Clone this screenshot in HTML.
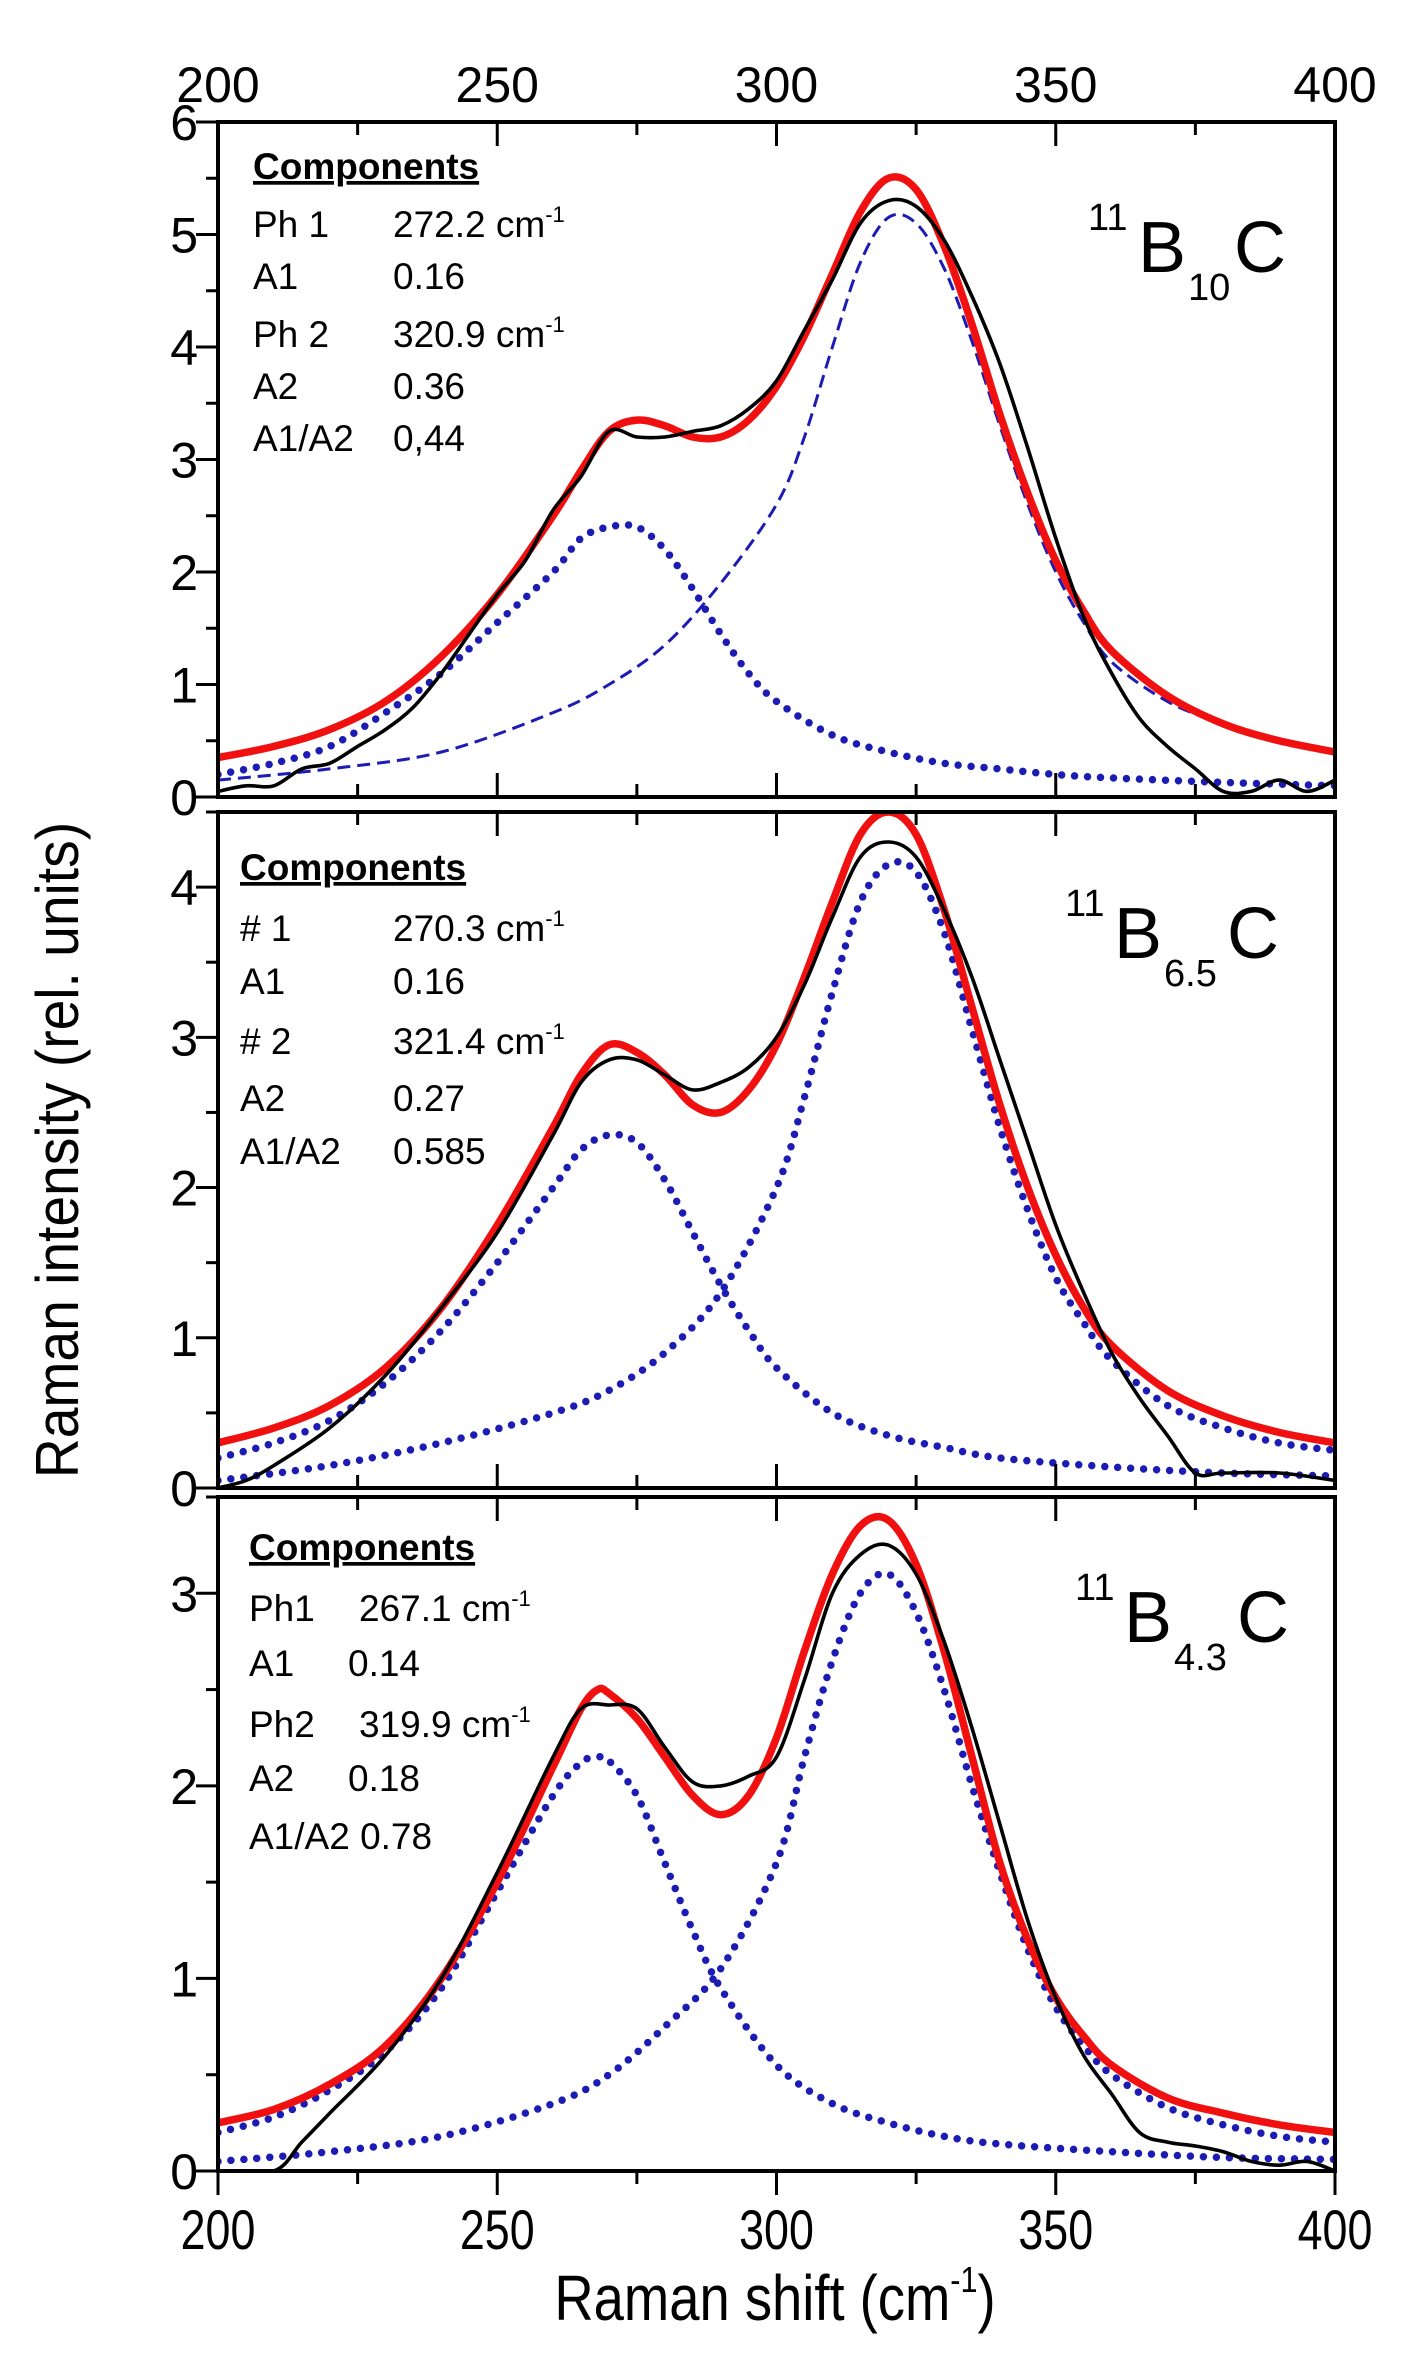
<!DOCTYPE html>
<html><head><meta charset="utf-8"><style>
html,body{margin:0;padding:0;background:#fff;width:1412px;height:2371px;overflow:hidden}
svg{display:block}
text{font-family:"Liberation Sans",Arial,sans-serif;fill:#000}
</style></head><body>
<svg id="chart" width="1412" height="2371" viewBox="0 0 1412 2371" xmlns="http://www.w3.org/2000/svg"></svg>
<script>
// ---- Data ----
const xTicks = [200, 250, 300, 350, 400];
const xTickLabels = ["200", "250", "300", "350", "400"];

// Panel 1: 11B10C
const p1MeasX = [200,205,210,215,220,225,230,235,240,245,250,255,260,265,270,275,280,285,290,295,300,305,310,315,320,325,330,335,340,345,350,355,360,365,370,375,380,385,390,395,400];
const p1MeasY = [0.05,0.1,0.1,0.25,0.3,0.45,0.6,0.8,1.1,1.45,1.8,2.1,2.55,2.85,3.25,3.2,3.2,3.25,3.3,3.45,3.7,4.15,4.6,5.1,5.3,5.25,4.95,4.45,3.85,3.1,2.3,1.6,1.1,0.7,0.45,0.25,0.05,0.05,0.15,0.05,0.15];
const p1FitX = [200,210,220,230,240,250,260,265,270,275,280,285,290,295,300,305,310,315,320,325,330,335,340,345,350,355,360,370,380,390,400];
const p1FitY = [0.35,0.45,0.6,0.85,1.25,1.8,2.5,2.9,3.25,3.35,3.3,3.2,3.2,3.35,3.65,4.1,4.65,5.2,5.5,5.4,4.9,4.2,3.4,2.7,2.1,1.65,1.3,0.9,0.65,0.5,0.4];
const p1C1X = [200,210,220,230,240,250,260,265,270,275,280,285,290,295,300,310,320,330,340,350,360,380,400];
const p1C1Y = [0.2,0.3,0.45,0.75,1.1,1.55,2.0,2.3,2.4,2.4,2.2,1.85,1.45,1.1,0.85,0.55,0.4,0.3,0.25,0.2,0.17,0.13,0.1];
const p1C2X = [200,220,240,260,270,280,290,300,305,310,315,320,325,330,335,340,345,350,355,360,370,380,390,400];
const p1C2Y = [0.15,0.25,0.4,0.75,1.0,1.35,1.9,2.6,3.2,4.0,4.75,5.15,5.1,4.7,4.05,3.3,2.6,2.0,1.55,1.2,0.85,0.65,0.5,0.38];
const p1YTicks = [0,1,2,3,4,5,6];

// Panel 2: 11B6.5C
const p2MeasX = [200,205,210,220,230,240,250,260,265,270,275,280,285,290,295,300,305,310,315,320,325,330,335,340,345,350,355,360,365,370,375,380,390,400];
const p2MeasY = [0.0,0.05,0.15,0.4,0.75,1.2,1.7,2.35,2.7,2.85,2.85,2.75,2.65,2.7,2.8,3.0,3.35,3.8,4.2,4.3,4.2,3.85,3.4,2.85,2.3,1.75,1.3,0.9,0.6,0.35,0.1,0.1,0.1,0.05];
const p2FitX = [200,210,220,230,240,250,260,265,270,275,280,285,290,295,300,305,310,315,320,325,330,335,340,345,350,355,360,370,380,390,400];
const p2FitY = [0.3,0.4,0.55,0.8,1.2,1.75,2.4,2.75,2.95,2.9,2.75,2.55,2.5,2.65,2.95,3.4,3.9,4.35,4.5,4.35,3.85,3.2,2.55,2.0,1.55,1.2,0.95,0.65,0.48,0.37,0.3];
const p2C1X = [200,210,220,230,240,250,260,265,270,275,280,285,290,295,300,310,320,330,340,360,380,400];
const p2C1Y = [0.2,0.3,0.45,0.7,1.05,1.5,2.0,2.25,2.35,2.3,2.05,1.7,1.35,1.05,0.8,0.5,0.35,0.27,0.2,0.14,0.1,0.08];
const p2C2X = [200,220,240,260,270,280,290,300,305,310,315,320,325,330,335,340,345,350,355,360,370,380,390,400];
const p2C2Y = [0.05,0.15,0.3,0.5,0.65,0.9,1.3,2.0,2.6,3.3,3.9,4.15,4.1,3.7,3.05,2.4,1.85,1.4,1.1,0.85,0.55,0.4,0.3,0.25];
const p2YTicks = [0,1,2,3,4];

// Panel 3: 11B4.3C
const p3MeasX = [200,210,215,220,230,240,250,260,265,270,275,280,285,290,295,300,305,310,315,320,325,330,335,340,345,350,355,360,365,370,375,380,385,390,395,400];
const p3MeasY = [0,0,0.15,0.3,0.6,1.0,1.55,2.15,2.4,2.42,2.4,2.2,2.02,2.0,2.05,2.15,2.55,3.0,3.2,3.25,3.1,2.75,2.3,1.8,1.3,0.9,0.6,0.4,0.2,0.15,0.13,0.1,0.05,0.03,0.05,0.0];
const p3FitX = [200,210,220,230,240,250,260,265,268,270,275,280,285,290,295,300,305,310,315,320,325,330,335,340,345,350,355,360,370,380,390,400];
const p3FitY = [0.25,0.32,0.45,0.65,1.0,1.5,2.1,2.4,2.5,2.48,2.35,2.15,1.95,1.85,1.95,2.25,2.7,3.1,3.35,3.38,3.15,2.7,2.15,1.6,1.2,0.9,0.7,0.55,0.38,0.3,0.24,0.2];
const p3C1X = [200,210,220,230,240,250,260,265,268,270,275,280,285,290,300,310,320,330,340,360,380,400];
const p3C1Y = [0.2,0.28,0.42,0.62,0.95,1.45,1.95,2.12,2.15,2.13,1.95,1.6,1.25,0.95,0.55,0.35,0.25,0.18,0.14,0.1,0.07,0.06];
const p3C2X = [200,220,240,260,270,280,290,300,305,310,315,320,325,330,335,340,345,350,355,360,370,380,390,400];
const p3C2Y = [0.05,0.1,0.18,0.35,0.5,0.75,1.05,1.6,2.15,2.65,3.0,3.1,2.9,2.5,2.0,1.55,1.15,0.85,0.65,0.5,0.33,0.24,0.18,0.15];
const p3YTicks = [0,1,2,3];

// ---- Rendering ----
const NS = "http://www.w3.org/2000/svg";
const svg = document.getElementById("chart");
const X0 = 218, X1 = 1335;
function xs(v){ return X0 + (v - 200) / 200 * (X1 - X0); }
function mk(tag, attrs, parent){
  const e = document.createElementNS(NS, tag);
  for (const k in attrs) e.setAttribute(k, attrs[k]);
  (parent || svg).appendChild(e);
  return e;
}
// Catmull-Rom smoothed path through data points
function path(xArr, yArr, ys){
  const P = xArr.map(function(x, i){ return [xs(x), ys(yArr[i])]; });
  let d = "M" + P[0][0].toFixed(1) + "," + P[0][1].toFixed(1);
  for (let i = 0; i < P.length - 1; i++) {
    const p0 = P[Math.max(i - 1, 0)], p1 = P[i], p2 = P[i + 1], p3 = P[Math.min(i + 2, P.length - 1)];
    const c1x = p1[0] + (p2[0] - p0[0]) / 6, c1y = p1[1] + (p2[1] - p0[1]) / 6;
    const c2x = p2[0] - (p3[0] - p1[0]) / 6, c2y = p2[1] - (p3[1] - p1[1]) / 6;
    d += "C" + c1x.toFixed(1) + "," + c1y.toFixed(1) + " " + c2x.toFixed(1) + "," + c2y.toFixed(1) + " " + p2[0].toFixed(1) + "," + p2[1].toFixed(1);
  }
  return d;
}

const panels = [
  {id:"b10c", top:122, bot:797, ymax:6, yt:p1YTicks, meas:[p1MeasX,p1MeasY], fit:[p1FitX,p1FitY], c1:[p1C1X,p1C1Y], c2:[p1C2X,p1C2Y], c2dashed:true, botOuter:false},
  {id:"b65c", top:812, bot:1488, ymax:4.5, yt:p2YTicks, meas:[p2MeasX,p2MeasY], fit:[p2FitX,p2FitY], c1:[p2C1X,p2C1Y], c2:[p2C2X,p2C2Y], c2dashed:false, botOuter:false},
  {id:"b43c", top:1497, bot:2171, ymax:3.5, yt:p3YTicks, meas:[p3MeasX,p3MeasY], fit:[p3FitX,p3FitY], c1:[p3C1X,p3C1Y], c2:[p3C2X,p3C2Y], c2dashed:false, botOuter:true}
];

panels.forEach(function(p){
  const g = mk("g", {});
  
  
  const ys = function(v){ return p.bot - v / p.ymax * (p.bot - p.top); };
  const clipId = "clip-" + p.id;
  const cp = mk("clipPath", {id: clipId}, g);
  mk("rect", {x: X0, y: p.top, width: X1 - X0, height: p.bot - p.top}, cp);
  const pg = mk("g", {"clip-path": "url(#" + clipId + ")"}, g);

  const c1 = mk("path", {d: path(p.c1[0], p.c1[1], ys), fill:"none", stroke:"#1c1cb4", "stroke-width":7.5, "stroke-linecap":"round", "stroke-dasharray":"0 13"}, pg);
  
  
  let c2;
  if (p.c2dashed) {
    c2 = mk("path", {d: path(p.c2[0], p.c2[1], ys), fill:"none", stroke:"#1c1cb4", "stroke-width":3, "stroke-dasharray":"13 7"}, pg);
  } else {
    c2 = mk("path", {d: path(p.c2[0], p.c2[1], ys), fill:"none", stroke:"#1c1cb4", "stroke-width":7.5, "stroke-linecap":"round", "stroke-dasharray":"0 13"}, pg);
  }
  
  
  const fit = mk("path", {d: path(p.fit[0], p.fit[1], ys), fill:"none", stroke:"#f01010", "stroke-width":7.5, "stroke-linejoin":"round"}, pg);
  
  
  const meas = mk("path", {d: path(p.meas[0], p.meas[1], ys), fill:"none", stroke:"#000", "stroke-width":3.6, "stroke-linejoin":"round"}, pg);
  
  

  const fr = mk("rect", {x: X0, y: p.top, width: X1 - X0, height: p.bot - p.top, fill:"none", stroke:"#000", "stroke-width":4}, g);
  
  

  for (let v = 0; v <= p.ymax + 1e-9; v += 0.5) {
    const major = Math.abs(v - Math.round(v)) < 1e-9;
    mk("line", {x1: X0 - (major ? 22 : 12), x2: X0, y1: ys(v), y2: ys(v), stroke:"#000", "stroke-width":3}, g);
  }
  p.yt.forEach(function(v){
    const t = mk("text", {x: 198, y: ys(v) + 18, "text-anchor":"end", "font-size":50}, g);
    t.textContent = String(v);
    
    
  });
  for (let v = 200; v <= 400; v += 25) {
    const major = v % 50 === 0;
    const L = major ? 24 : 13;
    mk("line", {x1: xs(v), x2: xs(v), y1: p.top, y2: p.top + L, stroke:"#000", "stroke-width":3}, g);
    if (p.botOuter) mk("line", {x1: xs(v), x2: xs(v), y1: p.bot, y2: p.bot + L, stroke:"#000", "stroke-width":3}, g);
    else mk("line", {x1: xs(v), x2: xs(v), y1: p.bot, y2: p.bot - L, stroke:"#000", "stroke-width":3}, g);
  }
});

xTicks.forEach(function(v, i){
  const t = mk("text", {x: xs(v), y: 102, "text-anchor":"middle", "font-size":50});
  t.textContent = xTickLabels[i];
  
  
});
xTicks.forEach(function(v, i){
  const t = mk("text", {x: 0, y: 0, "text-anchor":"middle", "font-size":56, transform:"translate(" + xs(v) + ",2249) scale(0.8,1)"});
  t.textContent = xTickLabels[i];
  
  
});
</script>

<svg style="position:absolute;left:0;top:0" width="1412" height="2371" xmlns="http://www.w3.org/2000/svg">
  <text transform="translate(78,1150) rotate(-90) scale(0.92,1)" text-anchor="middle" font-size="60">Raman intensity (rel. units)</text>
  <text transform="translate(775,2320) scale(0.85,1)" text-anchor="middle" font-size="64">Raman shift (cm<tspan dy="-28" font-size="36">-1</tspan><tspan dy="28">)</tspan></text>

  <g>
    <text x="1088" y="230" font-size="38">11</text>
    <text x="1138" y="272" font-size="72">B</text>
    <text x="1188" y="300" font-size="38">10</text>
    <text x="1234" y="272" font-size="72">C</text>
  </g>
  <g>
    <text x="1065" y="916" font-size="38">11</text>
    <text x="1114" y="958" font-size="72">B</text>
    <text x="1164" y="986" font-size="38">6.5</text>
    <text x="1227" y="958" font-size="72">C</text>
  </g>
  <g>
    <text x="1075" y="1600" font-size="38">11</text>
    <text x="1124" y="1642" font-size="72">B</text>
    <text x="1174" y="1670" font-size="38">4.3</text>
    <text x="1237" y="1642" font-size="72">C</text>
  </g>

  <g font-size="37">
    <text x="253" y="179" font-weight="bold" text-decoration="underline">Components</text>
    <text x="253" y="237">Ph 1</text><text x="393" y="237">272.2 cm<tspan dy="-15" font-size="22">-1</tspan></text>
    <text x="253" y="289">A1</text><text x="393" y="289">0.16</text>
    <text x="253" y="347">Ph 2</text><text x="393" y="347">320.9 cm<tspan dy="-15" font-size="22">-1</tspan></text>
    <text x="253" y="399">A2</text><text x="393" y="399">0.36</text>
    <text x="253" y="451">A1/A2</text><text x="393" y="451">0,44</text>
  </g>
  <g font-size="37">
    <text x="240" y="880" font-weight="bold" text-decoration="underline">Components</text>
    <text x="240" y="941"># 1</text><text x="393" y="941">270.3 cm<tspan dy="-15" font-size="22">-1</tspan></text>
    <text x="240" y="994">A1</text><text x="393" y="994">0.16</text>
    <text x="240" y="1054"># 2</text><text x="393" y="1054">321.4 cm<tspan dy="-15" font-size="22">-1</tspan></text>
    <text x="240" y="1111">A2</text><text x="393" y="1111">0.27</text>
    <text x="240" y="1164">A1/A2</text><text x="393" y="1164">0.585</text>
  </g>
  <g font-size="37">
    <text x="249" y="1560" font-weight="bold" text-decoration="underline">Components</text>
    <text x="249" y="1621">Ph1</text><text x="359" y="1621">267.1 cm<tspan dy="-15" font-size="22">-1</tspan></text>
    <text x="249" y="1676">A1</text><text x="348" y="1676">0.14</text>
    <text x="249" y="1737">Ph2</text><text x="359" y="1737">319.9 cm<tspan dy="-15" font-size="22">-1</tspan></text>
    <text x="249" y="1791">A2</text><text x="348" y="1791">0.18</text>
    <text x="249" y="1849">A1/A2 0.78</text>
  </g>
</svg>
</body></html>
